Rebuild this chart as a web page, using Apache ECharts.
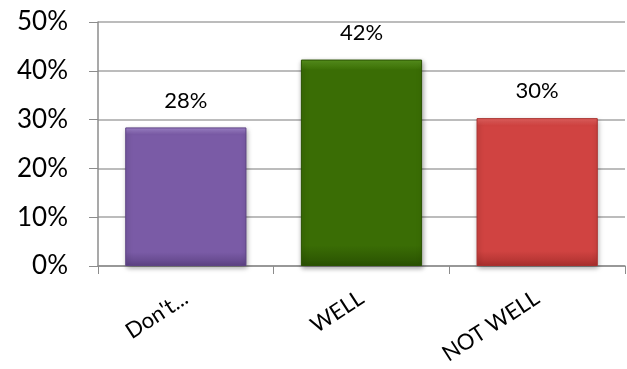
<!DOCTYPE html>
<html>
<head>
<meta charset="utf-8">
<script src="https://cdn.jsdelivr.net/npm/echarts@6/dist/echarts.min.js"></script>
<style>
  html, body { margin: 0; padding: 0; background: #fff; }
  #chart { width: 627px; height: 369px; }
</style>
</head>
<body>
<div id="chart"></div>
<script>
// data
const categories = ["Don't...", "WELL", "NOT WELL"];
const values = [28.4, 42.3, 30.3];
const yTicks = [0, 10, 20, 30, 40, 50];

// colours per bar: [light edge, main, dark edge]
const barColors = [
  ["#a588d0", "#7a5ba6", "#5e4385"],
  ["#5a961f", "#3a6d05", "#2a5202"],
  ["#ea6462", "#d04341", "#aa302e"]
];

function bevel(c) {
  return new echarts.graphic.LinearGradient(0, 0, 0, 1, [
    { offset: 0, color: c[0] },
    { offset: 0.05, color: c[1] },
    { offset: 0.9, color: c[1] },
    { offset: 1, color: c[2] }
  ]);
}

let chart = echarts.init(document.getElementById("chart"));

let option = {
  animation: false,
  textStyle: { fontFamily: "Lato, 'Open Sans', sans-serif" },
  grid: { left: 98, right: 2, top: 22, bottom: 103 },
  xAxis: {
    type: "category",
    data: categories,
    axisLine: { lineStyle: { color: "#8c8c8c", width: 1.5 } },
    axisTick: { show: true, length: 8, lineStyle: { color: "#8c8c8c" } },
    axisLabel: {
      rotate: 33,
      color: "#000",
      fontSize: 22,
      margin: 30
    }
  },
  yAxis: {
    type: "value",
    min: yTicks[0],
    max: yTicks[yTicks.length - 1],
    interval: 10,
    axisLine: { show: true, lineStyle: { color: "#8c8c8c", width: 1.5 } },
    axisTick: { show: true, inside: false, length: 9, lineStyle: { color: "#8c8c8c" } },
    axisLabel: {
      formatter: "{value}%",
      color: "#000",
      fontSize: 26,
      margin: 30
    },
    splitLine: { lineStyle: { color: "#a6a6a6", width: 1.5 } }
  },
  series: [
    {
      type: "bar",
      barWidth: "69%",
      data: values.map((v, i) => ({
        value: v,
        itemStyle: {
          color: bevel(barColors[i]),
          borderColor: barColors[i][2],
          borderWidth: 1,
          shadowColor: "rgba(0,0,0,0.35)",
          shadowBlur: 5,
          shadowOffsetX: 1,
          shadowOffsetY: 2
        }
      })),
      label: {
        show: true,
        position: "top",
        distance: 16,
        color: "#000",
        fontSize: 22,
        formatter: p => Math.round(p.value) + "%"
      }
    }
  ]
};

chart.setOption(option);
</script>
</body>
</html>
